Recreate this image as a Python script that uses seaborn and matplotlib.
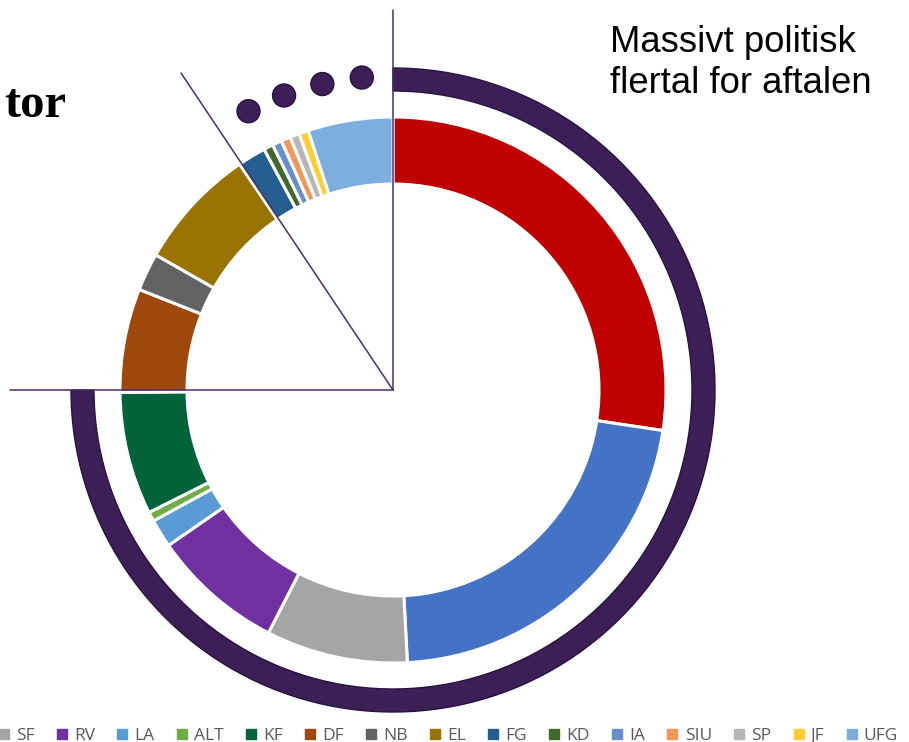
import numpy as np
import matplotlib.pyplot as plt
import matplotlib.patches as mpatches
from matplotlib.lines import Line2D
import seaborn as sns

# Seats per party, clockwise from 12 o'clock.
parties = ["S", "V", "SF", "RV", "LA", "ALT", "KF", "DF", "NB", "EL",
           "FG", "KD", "IA", "SIU", "SP", "JF", "UFG"]
seats = [49, 39, 15, 14, 3, 1, 13, 11, 4, 13, 3, 1, 1, 1, 1, 1, 9]
colors = ["#C00000", "#4472C4", "#A5A5A5", "#7030A0", "#5B9BD5", "#70AD47",
          "#00633A", "#9E480E", "#636363", "#997300", "#255E91", "#43682B",
          "#698ED0", "#F1975A", "#B7B7B7", "#FFCD33", "#7CAFDD"]

# Small dots above the ring (angle clockwise from 12 o'clock).
dot_angles = [354.3, 347.0, 339.7, 332.6]

title_text = "Massivt politisk\nflertal for aftalen"
side_text = "tor"

sns.set_theme(style="white")
plt.rcParams["font.family"] = ["Liberation Sans", "DejaVu Sans"]

W, H = 909, 742
fig = plt.figure(figsize=(W / 100, H / 100), dpi=100)
ax = fig.add_axes([0, 0, 1, 1])

cx, cy = 393, H - 390
purple = "#3C1F56"
purple_edge = "#2A123F"

# The donut.
ax.pie(
    seats,
    colors=colors,
    startangle=90,
    counterclock=False,
    radius=273,
    center=(cx, cy),
    wedgeprops=dict(width=67, edgecolor="white", linewidth=2.2),
)

# Outer arc from 12 o'clock clockwise to 9 o'clock.
arc = mpatches.Wedge((cx, cy), 322, 180, 450, width=23,
                     facecolor=purple, edgecolor=purple_edge, linewidth=1.0)
ax.add_patch(arc)

# Dots on the same circle as the arc.
for a in dot_angles:
    t = np.deg2rad(90 - a)
    ax.add_patch(mpatches.Circle((cx + 314 * np.cos(t), cy + 314 * np.sin(t)), 11.5,
                                 facecolor=purple, edgecolor=purple_edge, linewidth=1.0))

# Guide lines from the centre.
line_kw = dict(color="#4A3068", linewidth=1.1, zorder=5)
ax.plot([cx, cx], [cy, H - 10], **line_kw)
ax.plot([cx, 10], [cy, cy], **line_kw)
ax.plot([cx, 181], [cy, H - 73], **line_kw)

ax.text(610, H - 93, title_text, fontsize=26.3, color="black",
        ha="left", va="baseline", linespacing=1.22)
ax.text(66, H - 117, side_text, fontsize=35, color="black", fontweight="bold",
        family=["Liberation Serif", "DejaVu Serif"], ha="right", va="baseline")

handles = [Line2D([], [], marker="s", linestyle="none", markersize=6.5,
                  markerfacecolor=c, markeredgecolor=c) for c in colors]
leg = ax.legend(handles, parties, ncol=len(parties), loc="lower right",
                bbox_to_anchor=(905 / W, -0.012), frameon=False,
                prop={"family": ["Open Sans", "DejaVu Sans"], "size": 12.5},
                handlelength=0.7, handletextpad=0.35, columnspacing=1.22,
                borderaxespad=0.0)
for t in leg.get_texts():
    t.set_color("#595959")

ax.set_xlim(0, W)
ax.set_ylim(0, H)
ax.set_aspect("equal")
ax.axis("off")

fig.savefig("out.png", dpi=100)
